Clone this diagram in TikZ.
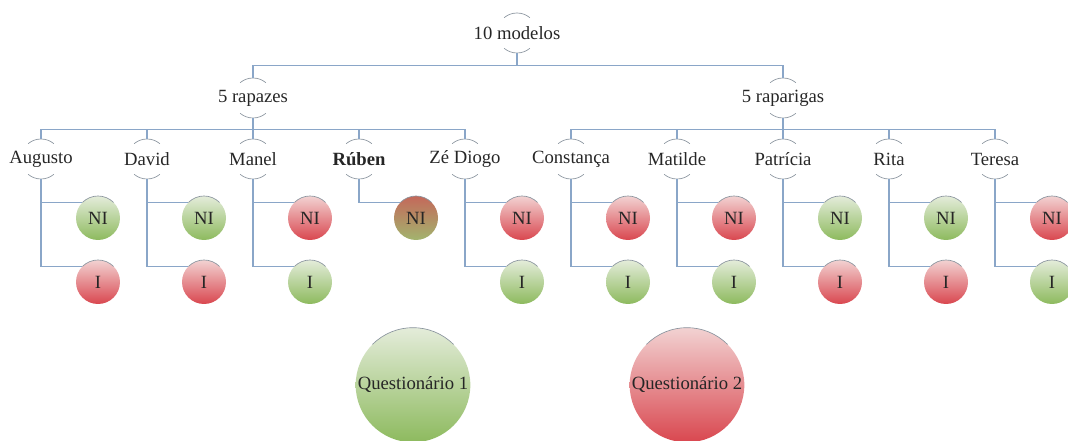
\documentclass[tikz,border=0pt]{standalone}
\usepackage{fontspec}
\setmainfont{Liberation Serif}

\definecolor{linkblue}{HTML}{8AA6C8}
\definecolor{rimgray}{HTML}{8A949E}
\definecolor{greentop}{HTML}{E4ECDA}
\definecolor{greenbot}{HTML}{8DBA5E}
\definecolor{redtop}{HTML}{F2D2D2}
\definecolor{redbot}{HTML}{D9474F}
\definecolor{mixtop}{HTML}{C4685A}
\definecolor{mixbot}{HTML}{A2B46E}

\def\dR{15pt}   % arc radius round a label
\def\dB{16.5pt} % ball radius

\begin{document}
\begin{tikzpicture}[x=0.75pt,y=0.75pt,
    every node/.style={font=\fontsize{14}{16}\selectfont, text=black!85},
    lbl/.style={shape=rectangle, inner sep=0pt, minimum height=2*\dR},
    link/.style={draw=linkblue, line width=0.9pt},
    rim/.style={draw=rimgray, line width=0.5pt},
    ball/.style={shape=circle, minimum size=2*\dB, inner sep=0pt},
    yes/.style={ball, top color=greentop, bottom color=greenbot},
    no/.style={ball, top color=redtop, bottom color=redbot},
    mix/.style={ball, top color=mixtop, bottom color=mixbot},
    big/.style={shape=circle, minimum size=86pt, inner sep=0pt}]
    \useasboundingbox (0,0) rectangle (1068,-441);

    %%   (lable)  (x, y)     {\text}
    \node[lbl] (M)   at (517, -33) {10 modelos};
    \node[lbl] (R)   at (253, -98) {5 rapazes};
    \node[lbl] (G)   at (783, -98) {5 raparigas};

    \node[lbl] (C1)  at ( 41,-159) {Augusto};
    \node[lbl] (C2)  at (147,-159) {David};
    \node[lbl] (C3)  at (253,-159) {Manel};
    \node[lbl] (C4)  at (359,-159) {\textbf{Rúben}};
    \node[lbl] (C5)  at (465,-159) {Zé Diogo};
    \node[lbl] (C6)  at (571,-159) {Constança};
    \node[lbl] (C7)  at (677,-159) {Matilde};
    \node[lbl] (C8)  at (783,-159) {Patrícia};
    \node[lbl] (C9)  at (889,-159) {Rita};
    \node[lbl] (C10) at (995,-159) {Teresa};

    \node[yes] (NI1)  at (  98,-218) {NI};
    \node[yes] (NI2)  at ( 204,-218) {NI};
    \node[no]  (NI3)  at ( 310,-218) {NI};
    \node[mix] (NI4)  at ( 416,-218) {NI};
    \node[no]  (NI5)  at ( 522,-218) {NI};
    \node[no]  (NI6)  at ( 628,-218) {NI};
    \node[no]  (NI7)  at ( 734,-218) {NI};
    \node[yes] (NI8)  at ( 840,-218) {NI};
    \node[yes] (NI9)  at ( 946,-218) {NI};
    \node[no]  (NI10) at (1052,-218) {NI};

    \node[no]  (I1)  at (  98,-282) {I};
    \node[no]  (I2)  at ( 204,-282) {I};
    \node[yes] (I3)  at ( 310,-282) {I};
    \node[yes] (I5)  at ( 522,-282) {I};
    \node[yes] (I6)  at ( 628,-282) {I};
    \node[yes] (I7)  at ( 734,-282) {I};
    \node[no]  (I8)  at ( 840,-282) {I};
    \node[no]  (I9)  at ( 946,-282) {I};
    \node[yes] (I10) at (1052,-282) {I};

    \node[big, top color=greentop, bottom color=greenbot] (Q1) at (413,-385) {Questionário 1};
    \node[big, top color=redtop, bottom color=redbot]     (Q2) at (687,-385) {Questionário 2};

    %% arcs round the labels
    \foreach \n in {M,R,G,C1,C2,C3,C4,C5,C6,C7,C8,C9,C10} {
        \draw[rim] (\n.center) ++(50:\dR) arc[start angle=50, end angle=130, radius=\dR];
        \draw[rim] (\n.center) ++(230:\dR) arc[start angle=230, end angle=310, radius=\dR];
    }
    %% rims on the balls
    \foreach \n in {NI1,NI2,NI3,NI4,NI5,NI6,NI7,NI8,NI9,NI10,I1,I2,I3,I5,I6,I7,I8,I9,I10} {
        \draw[rim] (\n.center) ++(45:\dB) arc[start angle=45, end angle=135, radius=\dB];
    }
    \draw[rim] (Q1.center) ++(45:43pt) arc[start angle=45, end angle=135, radius=43pt];
    \draw[rim] (Q2.center) ++(45:43pt) arc[start angle=45, end angle=135, radius=43pt];

    \path[link] (M.south) -- ++(0,-12) -| (R.north);
    \path[link] (M.south) -- ++(0,-12) -| (G.north);

    \path[link] (R.south) -- ++(0,-11) -| (C1.north);
    \path[link] (R.south) -- ++(0,-11) -| (C2.north);
    \path[link] (R.south) -- ++(0,-11) -| (C3.north);
    \path[link] (R.south) -- ++(0,-11) -| (C4.north);
    \path[link] (R.south) -- ++(0,-11) -| (C5.north);

    \path[link] (G.south) -- ++(0,-11) -| (C6.north);
    \path[link] (G.south) -- ++(0,-11) -| (C7.north);
    \path[link] (G.south) -- ++(0,-11) -| (C8.north);
    \path[link] (G.south) -- ++(0,-11) -| (C9.north);
    \path[link] (G.south) -- ++(0,-11) -| (C10.north);

    \path[link] (C1.south)  |- (NI1.135);  \path[link] (C1.south)  |- (I1.135);
    \path[link] (C2.south)  |- (NI2.135);  \path[link] (C2.south)  |- (I2.135);
    \path[link] (C3.south)  |- (NI3.135);  \path[link] (C3.south)  |- (I3.135);
    \path[link] (C4.south)  |- (NI4.135);
    \path[link] (C5.south)  |- (NI5.135);  \path[link] (C5.south)  |- (I5.135);
    \path[link] (C6.south)  |- (NI6.135);  \path[link] (C6.south)  |- (I6.135);
    \path[link] (C7.south)  |- (NI7.135);  \path[link] (C7.south)  |- (I7.135);
    \path[link] (C8.south)  |- (NI8.135);  \path[link] (C8.south)  |- (I8.135);
    \path[link] (C9.south)  |- (NI9.135);  \path[link] (C9.south)  |- (I9.135);
    \path[link] (C10.south) |- (NI10.135); \path[link] (C10.south) |- (I10.135);

\end{tikzpicture}
\end{document}
